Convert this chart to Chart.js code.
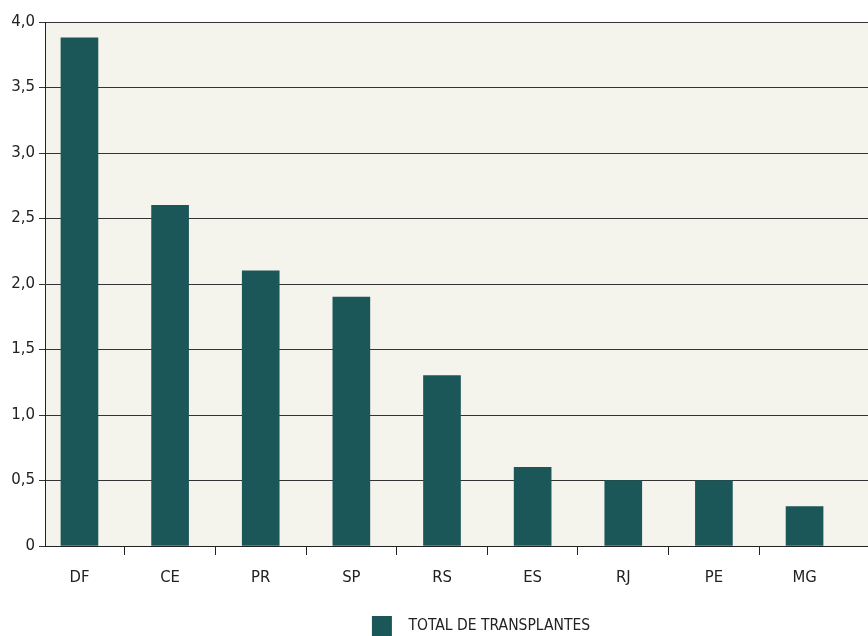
<!DOCTYPE html>
<html>
<head>
<meta charset="utf-8">
<script src="https://cdn.jsdelivr.net/npm/chart.js@4/dist/chart.umd.min.js"></script>
<style>
    html, body { margin: 0; padding: 0; background: #ffffff; }
    #wrap { width: 868px; height: 636px; }
</style>
</head>
<body>
<div id="wrap"><canvas id="chart"></canvas></div>
<script>
const categories = ['DF', 'CE', 'PR', 'SP', 'RS', 'ES', 'RJ', 'PE', 'MG'];
const transplants = [3.88, 2.6, 2.1, 1.9, 1.3, 0.6, 0.5, 0.5, 0.3];
const yTicks = [0, 0.5, 1, 1.5, 2, 2.5, 3, 3.5, 4];
const seriesLabel = 'TOTAL DE TRANSPLANTES';

const colors = {
    bar: '#1b5659',
    plotBg: '#f4f4ec',
    grid: '#333333',
    axis: '#222222',
    text: '#222222'
};

const narrowFont = '"Liberation Sans Narrow", "DejaVu Sans Condensed", "Liberation Sans", sans-serif';

// paint the plot area background
const plotBackground = {
    id: 'plotBackground',
    beforeDraw(chart) {
        const { ctx, chartArea } = chart;
        ctx.save();
        ctx.fillStyle = colors.plotBg;
        ctx.fillRect(chartArea.left, chartArea.top, chartArea.right - chartArea.left, chartArea.bottom - chartArea.top);
        ctx.restore();
    }
};

// legend sits a bit right of centre in the original
const legendShift = {
    id: 'legendShift',
    afterLayout(chart) {
        chart.legend.left += 47;
        chart.legend.right += 47;
    }
};

new Chart('chart', {
    type: 'bar',
    data: {
        datasets: [{
            label: seriesLabel,
            data: categories.map((c, i) => ({ x: i, y: transplants[i] })),
            backgroundColor: colors.bar,
            borderWidth: 0,
            barThickness: 37
        }]
    },
    options: {
        responsive: true,
        maintainAspectRatio: false,
        animation: false,
        layout: { padding: { top: 22, right: 0, bottom: -10, left: 0 } },
        plugins: {
            tooltip: { enabled: false },
            legend: {
                position: 'bottom',
                labels: {
                    boxWidth: 20,
                    boxHeight: 20,
                    padding: 0,
                    color: colors.text,
                    font: { family: narrowFont, size: 15.5 },
                    generateLabels(chart) {
                        return Chart.defaults.plugins.legend.labels.generateLabels(chart).map(l => {
                            l.text = '  ' + l.text;
                            l.lineWidth = 0;
                            return l;
                        });
                    }
                }
            }
        },
        scales: {
            x: {
                type: 'linear',
                offset: false,
                min: -0.38,
                max: 8.7,
                afterBuildTicks(scale) {
                    scale.ticks = categories.map((c, i) => ({ value: i }));
                },
                afterFit(scale) { scale.height = 70; },
                ticks: {
                    padding: 13,
                    color: colors.text,
                    font: { family: narrowFont, size: 16.5 },
                    callback: v => categories[v]
                },
                grid: {
                    offset: true,
                    drawOnChartArea: false,
                    drawTicks: true,
                    tickLength: 9,
                    lineWidth: 1,
                    color: ctx => (ctx.index < categories.length ? colors.axis : 'rgba(0,0,0,0)')
                },
                border: { display: true, color: colors.axis, width: 1 }
            },
            y: {
                min: 0,
                max: 4,
                afterBuildTicks(scale) {
                    scale.ticks = yTicks.map(v => ({ value: v }));
                },
                afterFit(scale) { scale.width = 45; },
                ticks: {
                    padding: 4,
                    color: colors.text,
                    font: { family: '"DejaVu Sans", Verdana, sans-serif', size: 15 },
                    callback: v => (v === 0 ? '0' : v.toFixed(1).replace('.', ','))
                },
                grid: {
                    color: colors.grid,
                    lineWidth: 1,
                    drawTicks: true,
                    tickLength: 6
                },
                border: { display: true, color: colors.axis, width: 1 }
            }
        }
    },
    plugins: [plotBackground, legendShift]
});
</script>
</body>
</html>
